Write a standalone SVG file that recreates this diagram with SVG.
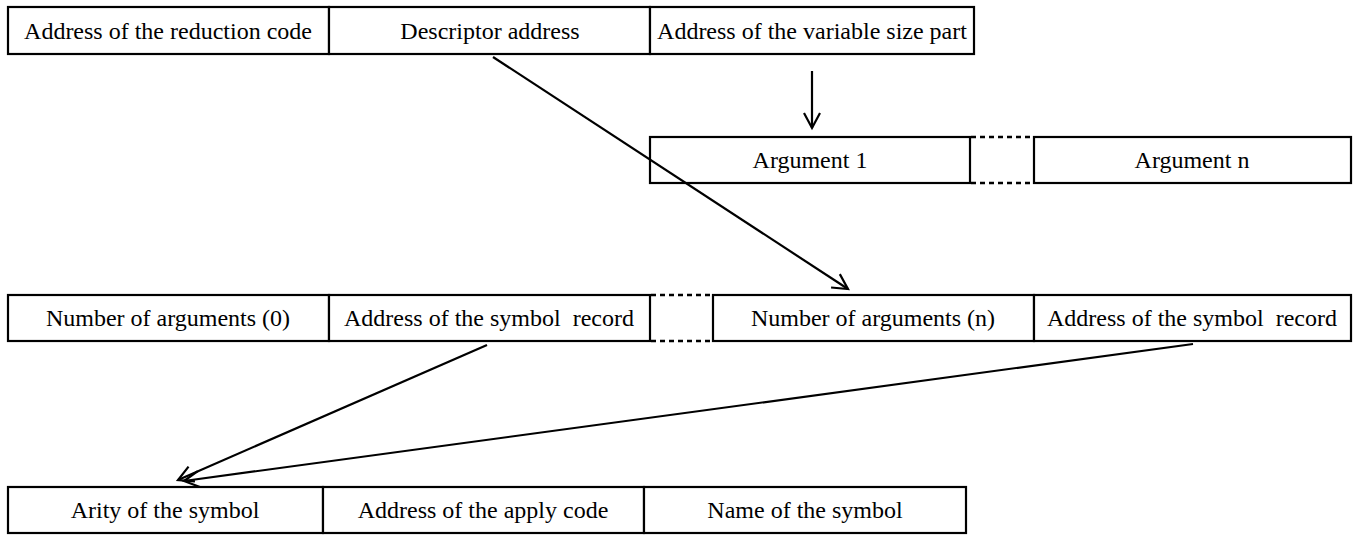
<svg xmlns="http://www.w3.org/2000/svg" width="1362" height="535" viewBox="0 0 1362 535">
  <style>
    .cell { fill: #fff; stroke: #000; stroke-width: 2.2; }
    .dots { stroke: #000; stroke-width: 2.5; stroke-dasharray: 5 4; fill: none; }
    .lbl { font-family: "Liberation Serif", "Times New Roman", serif; font-size: 24px; fill: #000; text-anchor: middle; dominant-baseline: central; white-space: pre; }
    .conn { stroke: #000; stroke-width: 2.2; fill: none; marker-end: url(#open); }
  </style>
  <defs>
    <marker id="open" markerUnits="userSpaceOnUse" markerWidth="22" markerHeight="22" viewBox="-18 -11 22 22" refX="0" refY="0" orient="auto">
      <path d="M-15,-8 L0,0 L-15,8" fill="none" stroke="#000" stroke-width="2.2"/>
    </marker>
  </defs>
  <rect width="1362" height="535" fill="#fff"/>

  <!-- Reduction record -->
  <g id="node-reduction-code">
    <rect class="cell" x="8" y="7" width="321" height="47"/>
    <text class="lbl" x="168" y="31">Address of the reduction code</text>
  </g>
  <g id="node-descriptor-address">
    <rect class="cell" x="329" y="7" width="321" height="47"/>
    <text class="lbl" x="490" y="31">Descriptor address</text>
  </g>
  <g id="node-variable-part">
    <rect class="cell" x="650" y="7" width="324" height="47"/>
    <text class="lbl" x="812" y="31">Address of the variable size part</text>
  </g>

  <!-- Argument vector -->
  <g id="node-argument-1">
    <rect class="cell" x="650" y="137" width="320" height="46"/>
    <text class="lbl" x="810" y="160">Argument 1</text>
  </g>
  <g id="node-argument-n">
    <rect class="cell" x="1034" y="137" width="317" height="46"/>
    <text class="lbl" x="1192" y="160">Argument n</text>
  </g>
  <g id="gap-arguments">
    <line class="dots" x1="971" y1="137" x2="1033" y2="137"/>
    <line class="dots" x1="971" y1="183" x2="1033" y2="183"/>
  </g>

  <!-- Descriptor table -->
  <g id="node-nargs-0">
    <rect class="cell" x="8" y="295" width="321" height="46"/>
    <text class="lbl" x="168" y="318">Number of arguments (0)</text>
  </g>
  <g id="node-symbol-record-0">
    <rect class="cell" x="329" y="295" width="321" height="46"/>
    <text class="lbl" x="489" y="318" xml:space="preserve">Address of the symbol  record</text>
  </g>
  <g id="gap-descriptors">
    <line class="dots" x1="651" y1="295" x2="712" y2="295"/>
    <line class="dots" x1="651" y1="341" x2="712" y2="341"/>
  </g>
  <g id="node-nargs-n">
    <rect class="cell" x="713" y="295" width="321" height="46"/>
    <text class="lbl" x="873" y="318">Number of arguments (n)</text>
  </g>
  <g id="node-symbol-record-n">
    <rect class="cell" x="1034" y="295" width="317" height="46"/>
    <text class="lbl" x="1192" y="318" xml:space="preserve">Address of the symbol  record</text>
  </g>

  <!-- Symbol record -->
  <g id="node-arity">
    <rect class="cell" x="8" y="487" width="315" height="46"/>
    <text class="lbl" x="165" y="510">Arity of the symbol</text>
  </g>
  <g id="node-apply-code">
    <rect class="cell" x="323" y="487" width="321" height="46"/>
    <text class="lbl" x="483" y="510">Address of the apply code</text>
  </g>
  <g id="node-symbol-name">
    <rect class="cell" x="644" y="487" width="322" height="46"/>
    <text class="lbl" x="805" y="510">Name of the symbol</text>
  </g>

  <!-- Pointers -->
  <g id="connectors">
    <line class="conn" x1="493" y1="57" x2="848" y2="289"/>
    <line class="conn" x1="812" y1="71" x2="812" y2="128"/>
    <line class="conn" x1="487" y1="345" x2="178" y2="480"/>
    <line class="conn" x1="1193" y1="344" x2="184" y2="481"/>
  </g>
</svg>
